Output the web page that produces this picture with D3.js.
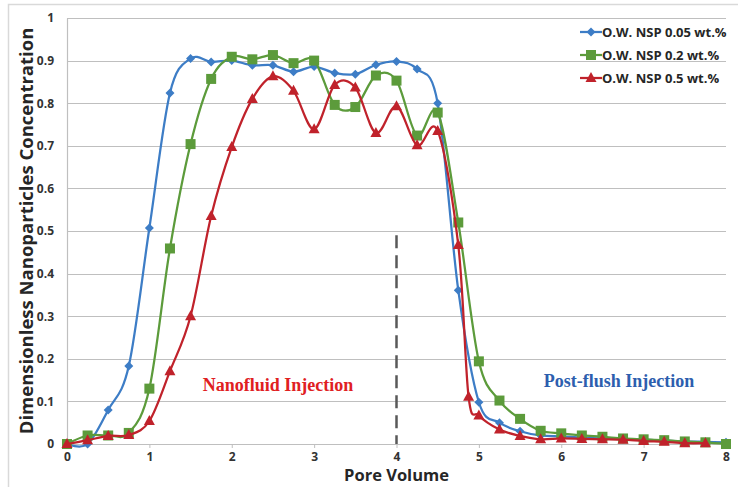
<!DOCTYPE html>
<html>
<head>
<meta charset="utf-8">
<script src="https://cdn.jsdelivr.net/npm/d3@7"></script>
<style>
  body { margin: 0; background: #fff; }
  svg { display: block; }
</style>
</head>
<body>
<svg id="chart" width="738" height="487"></svg>
<script>
// pore volume steps shared by the series
const pv = [0, 0.25, 0.5, 0.75, 1, 1.25, 1.5, 1.75, 2, 2.25, 2.5, 2.75, 3, 3.25, 3.5, 3.75,
  4, 4.25, 4.5, 4.75, 5, 5.25, 5.5, 5.75, 6, 6.25, 6.5, 6.75, 7, 7.25, 7.5, 7.75, 8];

const blueVals = [0, 0, 0.08, 0.183, 0.507, 0.824, 0.905, 0.897, 0.9, 0.889, 0.889, 0.874, 0.886, 0.871, 0.868, 0.89,
  0.898, 0.88, 0.8, 0.361, 0.098, 0.05, 0.03, 0.02, 0.018, 0.015, 0.013, 0.012, 0.01, 0.008, 0.006, 0.005, 0.004];

const greenVals = [0, 0.02, 0.02, 0.026, 0.13, 0.459, 0.704, 0.857, 0.909, 0.903, 0.913, 0.894, 0.9, 0.796, 0.791, 0.865,
  0.853, 0.724, 0.778, 0.52, 0.194, 0.102, 0.059, 0.031, 0.025, 0.02, 0.017, 0.013, 0.011, 0.009, 0.006, 0.004, 0.0];

// red series has one extra reading at 4.875 and stops at 7.75
const redPv = [0, 0.25, 0.5, 0.75, 1, 1.25, 1.5, 1.75, 2, 2.25, 2.5, 2.75, 3, 3.25, 3.5, 3.75,
  4, 4.25, 4.5, 4.75, 4.875, 5, 5.25, 5.5, 5.75, 6, 6.25, 6.5, 6.75, 7, 7.25, 7.5, 7.75];
const redVals = [0, 0.009, 0.019, 0.021, 0.054, 0.171, 0.3, 0.535, 0.697, 0.81, 0.863, 0.829, 0.739, 0.843, 0.837, 0.73,
  0.793, 0.701, 0.735, 0.467, 0.111, 0.067, 0.034, 0.019, 0.011, 0.013, 0.012, 0.011, 0.01, 0.007, 0.005, 0.002, 0.002];

const seriesNames = ["O.W. NSP 0.05 wt.%", "O.W. NSP 0.2 wt.%", "O.W. NSP 0.5 wt.%"];
const xTicks = [0, 1, 2, 3, 4, 5, 6, 7, 8];
const yTicks = [0, 0.1, 0.2, 0.3, 0.4, 0.5, 0.6, 0.7, 0.8, 0.9, 1];

const svg = d3.select("#chart");
const margin = { top: 18, right: 12, bottom: 43, left: 67 };
const width = 738, height = 487;

const x = d3.scaleLinear().domain([0, 8]).range([margin.left, width - margin.right]);
const y = d3.scaleLinear().domain([0, 1]).range([height - margin.bottom, margin.top]);

const font = "'Open Sans', sans-serif";

// outer chart frame (only left/top visible in the crop)
svg.append("path")
  .attr("d", "M8.5,487 L8.5,4.5 L738,4.5")
  .attr("fill", "none")
  .attr("stroke", "#d9d9d9")
  .attr("stroke-width", 1.5);

// horizontal gridlines
svg.append("g")
  .selectAll("line")
  .data(yTicks.filter(d => d > 0))
  .enter()
  .append("line")
  .attr("x1", x(0)).attr("x2", x(8))
  .attr("y1", d => Math.round(y(d)) + 0.5)
  .attr("y2", d => Math.round(y(d)) + 0.5)
  .attr("stroke", "#bfbfbf")
  .attr("stroke-width", 1.2);

// y axis
const yAxis = svg.append("g")
  .attr("transform", `translate(${x(0)},0)`)
  .call(d3.axisLeft(y).tickValues(yTicks).tickSize(0).tickPadding(13).tickFormat(d => d === 0 ? "0" : d3.format("")(d)));
yAxis.select(".domain").attr("stroke", "#bfbfbf").attr("stroke-width", 1.2);
yAxis.selectAll("text")
  .style("font", `bold 12px ${font}`)
  .attr("fill", "#333");

// x axis
const xAxis = svg.append("g")
  .attr("transform", `translate(0,${y(0)})`)
  .call(d3.axisBottom(x).tickValues(xTicks).tickSize(4).tickPadding(4));
xAxis.select(".domain").attr("stroke", "#bfbfbf").attr("stroke-width", 1.2);
xAxis.selectAll(".tick line").attr("stroke", "#bfbfbf");
xAxis.selectAll("text")
  .style("font", `bold 12px ${font}`)
  .attr("fill", "#333");

// dashed divider at 4 PV
svg.append("line")
  .attr("x1", x(4)).attr("x2", x(4))
  .attr("y1", y(0.49)).attr("y2", y(0))
  .attr("stroke", "#595959")
  .attr("stroke-width", 2.5)
  .attr("stroke-dasharray", "13,7");

const series = [
  { name: seriesNames[0], xs: pv, ys: blueVals, color: "#3d7dc6", symbol: "diamond" },
  { name: seriesNames[1], xs: pv, ys: greenVals, color: "#5c9b3b", symbol: "square" },
  { name: seriesNames[2], xs: redPv, ys: redVals, color: "#c0222b", symbol: "triangle" },
];

const line = d3.line()
  .x(d => x(d[0]))
  .y(d => y(d[1]))
  .curve(d3.curveCatmullRom.alpha(0));

function marker(g, type, color) {
  if (type === "diamond") {
    g.append("path").attr("d", "M0,-4.5 L4.5,0 L0,4.5 L-4.5,0 Z").attr("fill", color);
  } else if (type === "square") {
    g.append("rect").attr("x", -5).attr("y", -5).attr("width", 10).attr("height", 10).attr("fill", color);
  } else {
    g.append("path").attr("d", "M0,-6 L5.5,4 L-5.5,4 Z").attr("fill", color);
  }
}

series.forEach(s => {
  const pts = s.xs.map((v, i) => [v, s.ys[i]]);
  svg.append("path")
    .datum(pts)
    .attr("d", line)
    .attr("fill", "none")
    .attr("stroke", s.color)
    .attr("stroke-width", 2.25);
  svg.append("g")
    .selectAll("g")
    .data(pts)
    .enter()
    .append("g")
    .attr("transform", d => `translate(${x(d[0])},${y(d[1])})`)
    .each(function () { marker(d3.select(this), s.symbol, s.color); });
});

// legend
const legend = svg.append("g").attr("transform", "translate(580,32)");
series.forEach((s, i) => {
  const row = legend.append("g").attr("transform", `translate(0,${i * 23})`);
  row.append("line").attr("x1", 0).attr("x2", 22).attr("stroke", s.color).attr("stroke-width", 2.25);
  marker(row.append("g").attr("transform", "translate(11,0)"), s.symbol, s.color);
  row.append("text")
    .attr("x", 22).attr("y", 5)
    .style("font", `bold 13px ${font}`)
    .attr("fill", "#262626")
    .text(s.name);
});

// annotations
svg.append("text")
  .attr("x", 278).attr("y", 391)
  .attr("text-anchor", "middle")
  .style("font", "bold 18px 'Liberation Serif', serif")
  .attr("fill", "#e0201f")
  .text("Nanofluid Injection");

svg.append("text")
  .attr("x", 619).attr("y", 387)
  .attr("text-anchor", "middle")
  .style("font", "bold 18px 'Liberation Serif', serif")
  .attr("fill", "#2d5eae")
  .text("Post-flush Injection");

// axis titles
svg.append("text")
  .attr("x", x(4)).attr("y", 481)
  .attr("text-anchor", "middle")
  .style("font", `bold 16.5px ${font}`)
  .attr("fill", "#262626")
  .text("Pore Volume");

svg.append("text")
  .attr("transform", `translate(33,${(margin.top + height - margin.bottom) / 2}) rotate(-90)`)
  .attr("text-anchor", "middle")
  .style("font", `bold 18.5px ${font}`)
  .attr("fill", "#262626")
  .text("Dimensionless Nanoparticles Concentration");
</script>
</body>
</html>
